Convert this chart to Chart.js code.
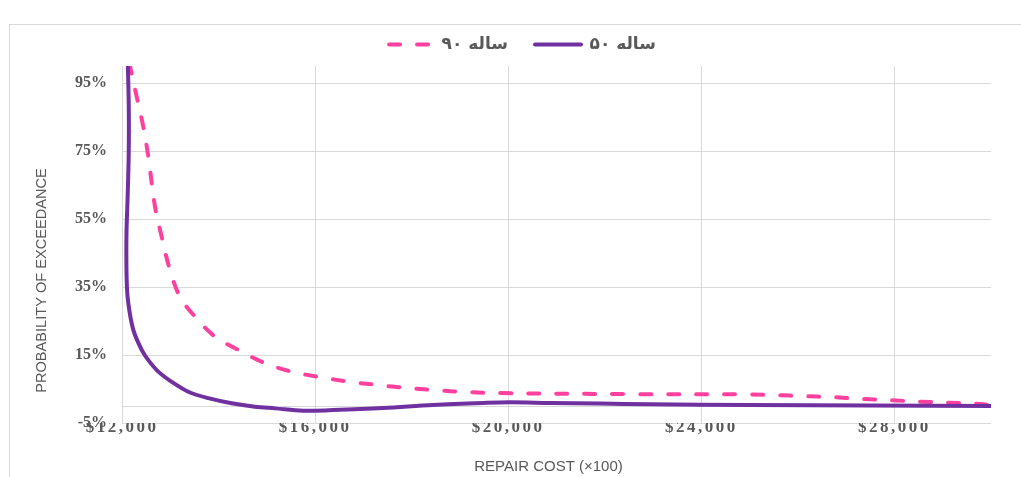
<!DOCTYPE html>
<html><head><meta charset="utf-8">
<script src="https://cdn.jsdelivr.net/npm/chart.js@4.4.1/dist/chart.umd.min.js"></script>
<style>
html,body{margin:0;padding:0;background:#fff;overflow:hidden}
#wrap{position:relative;width:1021px;height:477px;overflow:hidden}
#frame{position:absolute;left:9px;top:24px;width:1100px;height:600px;border:1px solid #d9d9d9;box-sizing:border-box}
canvas{position:absolute;left:0;top:0}
</style></head><body>
<div id="wrap"><div id="frame"></div><canvas id="c" width="1021" height="477"></canvas></div>
<script>
// ---- data ----
const seriesNames = ['۵۰ ساله', '۹۰ ساله'];
const x50 = [12120, 12140, 12140, 12118, 12092, 12097, 12130, 12234, 12408, 12545, 12752, 13029, 13373, 13788, 14272, 14755, 15169, 15750, 16370, 17406, 18442, 19477, 20036, 20865, 21900, 22936, 25000, 27500, 30000];
const y50 = [101, 88, 75, 62, 50, 37, 30.3, 22.4, 16.5, 13.5, 10.1, 7.1, 4.2, 2.3, 0.8, -0.2, -0.7, -1.4, -1.2, -0.6, 0.3, 0.9, 1.1, 0.9, 0.7, 0.5, 0.3, 0.15, 0.0];
const x90 = [12150, 12304, 12441, 12545, 12684, 12822, 12994, 13201, 13512, 13926, 14409, 14962, 15542, 16101, 16722, 17282, 17903, 18442, 19146, 19829, 22584, 25000, 25567, 26105, 26727, 27286, 27907, 28487, 29088, 29627, 30000];
const y90 = [101, 91, 82.1, 73.3, 58.6, 49.8, 40, 32.1, 26.3, 20.4, 16.5, 12.6, 10.0, 8.5, 7.1, 6.2, 5.3, 4.7, 4.1, 3.8, 3.5, 3.4, 3.2, 2.9, 2.6, 2.1, 1.7, 1.3, 1.0, 0.7, 0.3];
const xTickValues = [12000, 16000, 20000, 24000, 28000];
const xTickLabels = ['$12,000', '$16,000', '$20,000', '$24,000', '$28,000'];
const yTickValues = [-5, 0, 15, 35, 55, 75, 95];
const yTickLabels = ['-5%', '', '15%', '35%', '55%', '75%', '95%'];
const xTitle = 'REPAIR COST (×100)';
const yTitle = 'PROBABILITY OF EXCEEDANCE';

const toPts = (xs, ys) => xs.map((x, i) => ({x: x, y: ys[i]}));

const tweaks = {
  id: 'tweaks',
  beforeLayout(chart) {
    const lg = chart.legend;
    if (lg && !lg._tw) {
      const f = lg.fit;
      lg.fit = function () { f.call(this); this.height = 57; };
      const d = lg.draw;
      lg.draw = function () { this.ctx.save(); this.ctx.translate(26, 0); d.call(this); this.ctx.restore(); };
      lg._tw = true;
    }
  },
  beforeDraw(chart) {
    const x = chart.scales.x, y = chart.scales.y;
    if (!x._tw) {
      const dl = x.drawLabels;
      x.drawLabels = function (a) { this.ctx.save(); this.ctx.letterSpacing = '2.5px'; dl.call(this, a); this.ctx.restore(); };
      const dt = x.drawTitle;
      x.drawTitle = function () { this.ctx.save(); this.ctx.translate(-8, 0); dt.call(this); this.ctx.restore(); };
      x._tw = true;
    }
    if (!y._tw) {
      const dt = y.drawTitle;
      y.drawTitle = function () { this.ctx.save(); this.ctx.translate(0, 36); dt.call(this); this.ctx.restore(); };
      y._tw = true;
    }
  }
};

new Chart(document.getElementById('c'), {
  type: 'line',
  data: {
    datasets: [
      {
        label: seriesNames[0],
        data: toPts(x50, y50),
        borderColor: '#7030A0',
        backgroundColor: '#7030A0',
        borderWidth: 4,
        borderCapStyle: 'round',
        pointRadius: 0,
        pointStyle: 'line',
        tension: 0.35,
        fill: false
      },
      {
        label: seriesNames[1],
        data: toPts(x90, y90),
        borderColor: '#FF409F',
        backgroundColor: '#FF409F',
        borderWidth: 4,
        borderDash: [11, 17],
        borderCapStyle: 'round',
        pointRadius: 0,
        pointStyle: 'line',
        tension: 0.35,
        fill: false
      }
    ]
  },
  options: {
    responsive: false,
    animation: false,
    layout: {padding: {left: 0, right: 30, top: 9, bottom: 0}},
    plugins: {
      tooltip: {enabled: false},
      legend: {
        position: 'top',
        reverse: true,
        labels: {
          usePointStyle: true,
          pointStyleWidth: 46,
          padding: 27,
          color: '#595959',
          font: {family: 'DejaVu Sans', size: 17, weight: 'bold'},
          generateLabels: chart => {
            const items = Chart.defaults.plugins.legend.labels.generateLabels(chart);
            items.forEach(it => {
              const ds = chart.data.datasets[it.datasetIndex];
              it.lineDash = ds.borderDash || [];
              it.lineDashOffset = 26;
              it.lineCap = 'round';
              it.lineWidth = ds.borderWidth;
              it.strokeStyle = ds.borderColor;
            });
            return items;
          }
        }
      }
    },
    scales: {
      x: {
        type: 'linear',
        min: 12000,
        max: 30000,
        afterBuildTicks: s => { s.ticks = xTickValues.map(v => ({value: v})); },
        afterFit: s => { s.height = 54; },
        ticks: {
          callback: v => xTickLabels[xTickValues.indexOf(v)],
          autoSkip: false,
          maxRotation: 0,
          padding: -6,
          color: '#595959',
          font: {family: 'Liberation Serif', size: 17, weight: 'bold'}
        },
        grid: {color: '#d9d9d9', lineWidth: 1, drawTicks: false},
        border: {display: false},
        title: {
          display: true, text: xTitle, color: '#595959',
          font: {family: 'Liberation Sans', size: 15},
          padding: {top: 0, bottom: 1}
        }
      },
      y: {
        type: 'linear',
        min: -5,
        max: 100,
        afterBuildTicks: s => { s.ticks = yTickValues.map(v => ({value: v})); },
        afterFit: s => { s.width = 122; },
        ticks: {
          callback: v => yTickLabels[yTickValues.indexOf(v)],
          autoSkip: false,
          padding: 15,
          color: '#595959',
          font: {family: 'Liberation Serif', size: 16, weight: 'bold'}
        },
        grid: {color: '#d9d9d9', lineWidth: 1, drawTicks: false},
        border: {display: false},
        title: {
          display: true, text: yTitle, color: '#595959',
          font: {family: 'Liberation Sans', size: 14.6},
          padding: {top: 33, bottom: 0}
        }
      }
    }
  },
  plugins: [tweaks]
});
</script>
</body></html>
